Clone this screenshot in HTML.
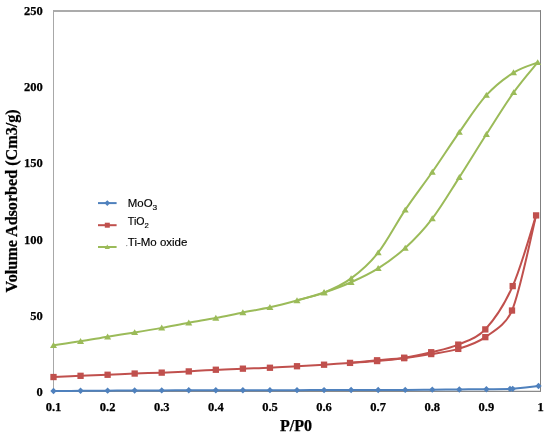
<!DOCTYPE html>
<html><head><meta charset="utf-8"><title>Isotherm chart</title>
<style>html,body{margin:0;padding:0;background:#fff;}svg{display:block;}</style>
</head><body>
<svg width="550" height="438" viewBox="0 0 550 438">
<line x1="53" y1="10.9" x2="541" y2="10.9" stroke="#8f8f8f" stroke-width="1.5"/>
<line x1="540.5" y1="10.2" x2="540.5" y2="392" stroke="#808080" stroke-width="1"/>
<line x1="53.5" y1="10.2" x2="53.5" y2="392" stroke="#a8a8a8" stroke-width="1"/>
<line x1="53" y1="391.4" x2="541" y2="391.4" stroke="#8a8a8a" stroke-width="1.2"/>
<path d="M53.50,391.04 C58.01,391.01 71.54,390.88 80.56,390.82 C89.57,390.75 98.59,390.71 107.61,390.66 C116.63,390.61 125.65,390.55 134.67,390.51 C143.69,390.47 152.70,390.44 161.72,390.40 C170.74,390.37 179.76,390.34 188.78,390.31 C197.80,390.29 206.81,390.27 215.83,390.25 C224.85,390.23 233.87,390.22 242.89,390.21 C251.91,390.19 260.93,390.17 269.94,390.16 C278.96,390.15 287.98,390.14 297.00,390.13 C306.02,390.12 315.04,390.11 324.06,390.10 C333.07,390.09 342.09,390.07 351.11,390.05 C360.13,390.04 369.15,390.03 378.17,390.01 C387.19,389.98 396.20,389.96 405.22,389.90 C414.24,389.85 423.26,389.75 432.28,389.67 C441.30,389.60 450.31,389.52 459.33,389.45 C468.35,389.37 477.94,389.31 486.39,389.22 C494.83,389.13 505.61,388.98 510.00,388.91 C511.08,388.90 511.63,388.95 512.70,388.84 C517.45,388.35 534.20,386.49 538.50,386.02" fill="none" stroke="#4F81BD" stroke-width="2.0" stroke-linejoin="round"/>
<g fill="#4F81BD"><path d="M53.50,387.84L56.70,391.04L53.50,394.24L50.30,391.04Z"/><path d="M80.56,387.62L83.76,390.82L80.56,394.02L77.36,390.82Z"/><path d="M107.61,387.46L110.81,390.66L107.61,393.86L104.41,390.66Z"/><path d="M134.67,387.31L137.87,390.51L134.67,393.71L131.47,390.51Z"/><path d="M161.72,387.20L164.92,390.40L161.72,393.60L158.52,390.40Z"/><path d="M188.78,387.11L191.98,390.31L188.78,393.51L185.58,390.31Z"/><path d="M215.83,387.05L219.03,390.25L215.83,393.45L212.63,390.25Z"/><path d="M242.89,387.01L246.09,390.21L242.89,393.41L239.69,390.21Z"/><path d="M269.94,386.96L273.14,390.16L269.94,393.36L266.74,390.16Z"/><path d="M297.00,386.93L300.20,390.13L297.00,393.33L293.80,390.13Z"/><path d="M324.06,386.90L327.26,390.10L324.06,393.30L320.86,390.10Z"/><path d="M351.11,386.85L354.31,390.05L351.11,393.25L347.91,390.05Z"/><path d="M378.17,386.81L381.37,390.01L378.17,393.21L374.97,390.01Z"/><path d="M405.22,386.70L408.42,389.90L405.22,393.10L402.02,389.90Z"/><path d="M432.28,386.47L435.48,389.67L432.28,392.87L429.08,389.67Z"/><path d="M459.33,386.25L462.53,389.45L459.33,392.65L456.13,389.45Z"/><path d="M486.39,386.02L489.59,389.22L486.39,392.42L483.19,389.22Z"/><path d="M510.00,385.71L513.20,388.91L510.00,392.11L506.80,388.91Z"/><path d="M512.70,385.64L515.90,388.84L512.70,392.04L509.50,388.84Z"/><path d="M538.50,382.82L541.70,386.02L538.50,389.22L535.30,386.02Z"/></g>
<path d="M53.50,377.04 C58.01,376.84 71.54,376.20 80.56,375.82 C89.57,375.44 98.59,375.14 107.61,374.76 C116.63,374.38 125.65,373.90 134.67,373.54 C143.69,373.19 152.70,372.98 161.72,372.63 C170.74,372.27 179.76,371.89 188.78,371.41 C197.80,370.93 206.81,370.19 215.83,369.74 C224.85,369.28 233.87,369.00 242.89,368.67 C251.91,368.34 260.93,368.16 269.94,367.76 C278.96,367.35 287.98,366.74 297.00,366.23 C306.02,365.73 315.22,365.27 324.06,364.71 C332.89,364.15 341.19,363.50 350.03,362.89 C358.87,362.28 368.07,361.85 377.08,361.06 C386.10,360.27 395.12,359.34 404.14,358.17 C413.16,357.00 422.18,355.61 431.20,354.06 C440.21,352.51 449.23,351.70 458.25,348.88 C467.27,346.07 476.35,343.56 485.31,337.16 C494.26,330.77 506.19,324.45 512.00,310.53 C520.47,290.24 532.08,231.26 536.10,215.40" fill="none" stroke="#C0504D" stroke-width="2.0" stroke-linejoin="round"/>
<path d="M536.10,215.40 C532.20,227.19 521.17,267.10 512.70,286.10 C504.36,304.82 494.38,319.65 485.31,329.40 C476.85,338.49 467.27,340.82 458.25,344.62 C449.23,348.43 440.21,350.05 431.20,352.23 C422.18,354.41 413.16,356.37 404.14,357.71 C395.12,359.06 386.10,359.44 377.08,360.30 C368.07,361.16 354.54,362.46 350.03,362.89" fill="none" stroke="#C0504D" stroke-width="2.0" stroke-linejoin="round"/>
<g fill="#C0504D"><rect x="50.35" y="373.89" width="6.30" height="6.30"/><rect x="77.41" y="372.67" width="6.30" height="6.30"/><rect x="104.46" y="371.61" width="6.30" height="6.30"/><rect x="131.52" y="370.39" width="6.30" height="6.30"/><rect x="158.57" y="369.48" width="6.30" height="6.30"/><rect x="185.63" y="368.26" width="6.30" height="6.30"/><rect x="212.68" y="366.59" width="6.30" height="6.30"/><rect x="239.74" y="365.52" width="6.30" height="6.30"/><rect x="266.79" y="364.61" width="6.30" height="6.30"/><rect x="293.85" y="363.08" width="6.30" height="6.30"/><rect x="320.91" y="361.56" width="6.30" height="6.30"/><rect x="346.88" y="359.74" width="6.30" height="6.30"/><rect x="373.93" y="357.91" width="6.30" height="6.30"/><rect x="400.99" y="355.02" width="6.30" height="6.30"/><rect x="428.05" y="350.91" width="6.30" height="6.30"/><rect x="455.10" y="345.73" width="6.30" height="6.30"/><rect x="482.16" y="334.01" width="6.30" height="6.30"/><rect x="508.85" y="307.38" width="6.30" height="6.30"/><rect x="532.95" y="212.25" width="6.30" height="6.30"/><rect x="509.55" y="282.95" width="6.30" height="6.30"/><rect x="482.16" y="326.25" width="6.30" height="6.30"/><rect x="455.10" y="341.47" width="6.30" height="6.30"/><rect x="428.05" y="349.08" width="6.30" height="6.30"/><rect x="400.99" y="354.56" width="6.30" height="6.30"/><rect x="373.93" y="357.15" width="6.30" height="6.30"/></g>
<path d="M53.50,345.23 C58.01,344.57 71.54,342.69 80.56,341.27 C89.57,339.85 98.59,338.18 107.61,336.71 C116.63,335.24 125.65,333.92 134.67,332.45 C143.69,330.98 152.70,329.50 161.72,327.88 C170.74,326.26 179.76,324.35 188.78,322.71 C197.80,321.06 206.81,319.69 215.83,317.99 C224.85,316.29 233.87,314.28 242.89,312.51 C251.91,310.73 260.93,309.34 269.94,307.33 C278.96,305.33 287.98,302.94 297.00,300.48 C306.02,298.02 315.04,295.61 324.06,292.57 C333.07,289.53 342.09,286.25 351.11,282.22 C360.13,278.19 369.15,274.08 378.17,268.37 C387.19,262.66 396.20,256.27 405.22,247.98 C414.24,239.68 423.26,230.37 432.28,218.60 C441.30,206.83 450.31,191.41 459.33,177.35 C468.35,163.30 477.33,148.44 486.39,134.28 C495.45,120.13 505.15,104.40 513.70,92.43 C522.25,80.45 533.70,67.44 537.70,62.44" fill="none" stroke="#9BBB59" stroke-width="2.0" stroke-linejoin="round"/>
<path d="M537.70,62.44 C533.67,64.14 522.05,67.19 513.50,72.64 C504.95,78.09 495.42,85.25 486.39,95.17 C477.36,105.08 468.35,119.34 459.33,132.15 C450.31,144.96 441.30,159.07 432.28,172.03 C423.26,184.99 414.24,196.48 405.22,209.93 C396.20,223.37 387.19,241.28 378.17,252.69 C369.15,264.11 360.13,271.77 351.11,278.42 C342.09,285.06 333.07,288.94 324.06,292.57 C315.04,296.20 301.51,298.91 297.00,300.18" fill="none" stroke="#9BBB59" stroke-width="2.0" stroke-linejoin="round"/>
<g fill="#9BBB59"><path d="M53.50,341.96L57.00,347.91L50.00,347.91Z"/><path d="M80.56,338.00L84.06,343.95L77.06,343.95Z"/><path d="M107.61,333.44L111.11,339.39L104.11,339.39Z"/><path d="M134.67,329.17L138.17,335.12L131.17,335.12Z"/><path d="M161.72,324.61L165.22,330.56L158.22,330.56Z"/><path d="M188.78,319.43L192.28,325.38L185.28,325.38Z"/><path d="M215.83,314.71L219.33,320.66L212.33,320.66Z"/><path d="M242.89,309.24L246.39,315.19L239.39,315.19Z"/><path d="M269.94,304.06L273.44,310.01L266.44,310.01Z"/><path d="M297.00,297.21L300.50,303.16L293.50,303.16Z"/><path d="M324.06,289.30L327.56,295.25L320.56,295.25Z"/><path d="M351.11,278.95L354.61,284.90L347.61,284.90Z"/><path d="M378.17,265.10L381.67,271.05L374.67,271.05Z"/><path d="M405.22,244.70L408.72,250.65L401.72,250.65Z"/><path d="M432.28,215.33L435.78,221.28L428.78,221.28Z"/><path d="M459.33,174.08L462.83,180.03L455.83,180.03Z"/><path d="M486.39,131.01L489.89,136.96L482.89,136.96Z"/><path d="M513.70,89.15L517.20,95.10L510.20,95.10Z"/><path d="M537.70,59.17L541.20,65.12L534.20,65.12Z"/><path d="M513.50,69.37L517.00,75.32L510.00,75.32Z"/><path d="M486.39,91.89L489.89,97.84L482.89,97.84Z"/><path d="M459.33,128.88L462.83,134.83L455.83,134.83Z"/><path d="M432.28,168.76L435.78,174.71L428.78,174.71Z"/><path d="M405.22,206.65L408.72,212.60L401.72,212.60Z"/><path d="M378.17,249.42L381.67,255.37L374.67,255.37Z"/><path d="M351.11,275.14L354.61,281.09L347.61,281.09Z"/><path d="M324.06,289.30L327.56,295.25L320.56,295.25Z"/></g>
<g font-family="Liberation Serif, serif" font-weight="bold" font-size="12.5" fill="#000" stroke="#000" stroke-width="0.25"><text x="42.8" y="396.20" text-anchor="end">0</text><text x="42.8" y="319.95" text-anchor="end">50</text><text x="42.8" y="243.70" text-anchor="end">100</text><text x="42.8" y="167.45" text-anchor="end">150</text><text x="42.8" y="91.20" text-anchor="end">200</text><text x="42.8" y="14.95" text-anchor="end">250</text><text x="53.50" y="410.8" text-anchor="middle">0.1</text><text x="107.61" y="410.8" text-anchor="middle">0.2</text><text x="161.72" y="410.8" text-anchor="middle">0.3</text><text x="215.83" y="410.8" text-anchor="middle">0.4</text><text x="269.94" y="410.8" text-anchor="middle">0.5</text><text x="324.06" y="410.8" text-anchor="middle">0.6</text><text x="378.17" y="410.8" text-anchor="middle">0.7</text><text x="432.28" y="410.8" text-anchor="middle">0.8</text><text x="486.39" y="410.8" text-anchor="middle">0.9</text><text x="540.50" y="410.8" text-anchor="middle">1</text></g>
<text x="296" y="430.5" text-anchor="middle" font-family="Liberation Serif, serif" font-weight="bold" font-size="16" stroke="#000" stroke-width="0.25">P/P0</text>
<text transform="translate(17,200.9) rotate(-90)" text-anchor="middle" font-family="Liberation Serif, serif" font-weight="bold" font-size="16" stroke="#000" stroke-width="0.25" textLength="183" lengthAdjust="spacingAndGlyphs">Volume Adsorbed (Cm3/g)</text>
<line x1="98.0" y1="203.1" x2="116.6" y2="203.1" stroke="#4F81BD" stroke-width="2.0"/>
<g fill="#4F81BD"><path d="M107.30,200.20L110.20,203.10L107.30,206.00L104.40,203.10Z"/></g>
<line x1="98.0" y1="225.2" x2="116.6" y2="225.2" stroke="#C0504D" stroke-width="2.0"/>
<g fill="#C0504D"><rect x="104.80" y="222.70" width="5.00" height="5.00"/></g>
<line x1="98.0" y1="247.0" x2="116.6" y2="247.0" stroke="#9BBB59" stroke-width="2.0"/>
<g fill="#9BBB59"><path d="M107.30,244.57L109.90,248.99L104.70,248.99Z"/></g>
<circle cx="126.8" cy="245.6" r="0.55" fill="#666"/>
<g font-family="Liberation Sans, sans-serif" font-size="11" fill="#000" stroke="#000" stroke-width="0.15"><text x="127.8" y="206.8" textLength="29.4" lengthAdjust="spacingAndGlyphs">MoO<tspan font-size="8" dy="3">3</tspan></text><text x="127.8" y="224.6" textLength="21.0" lengthAdjust="spacingAndGlyphs">TiO<tspan font-size="8" dy="3">2</tspan></text><text x="127.8" y="246.3" textLength="59.6" lengthAdjust="spacingAndGlyphs">Ti-Mo oxide</text></g>
</svg>
</body></html>
